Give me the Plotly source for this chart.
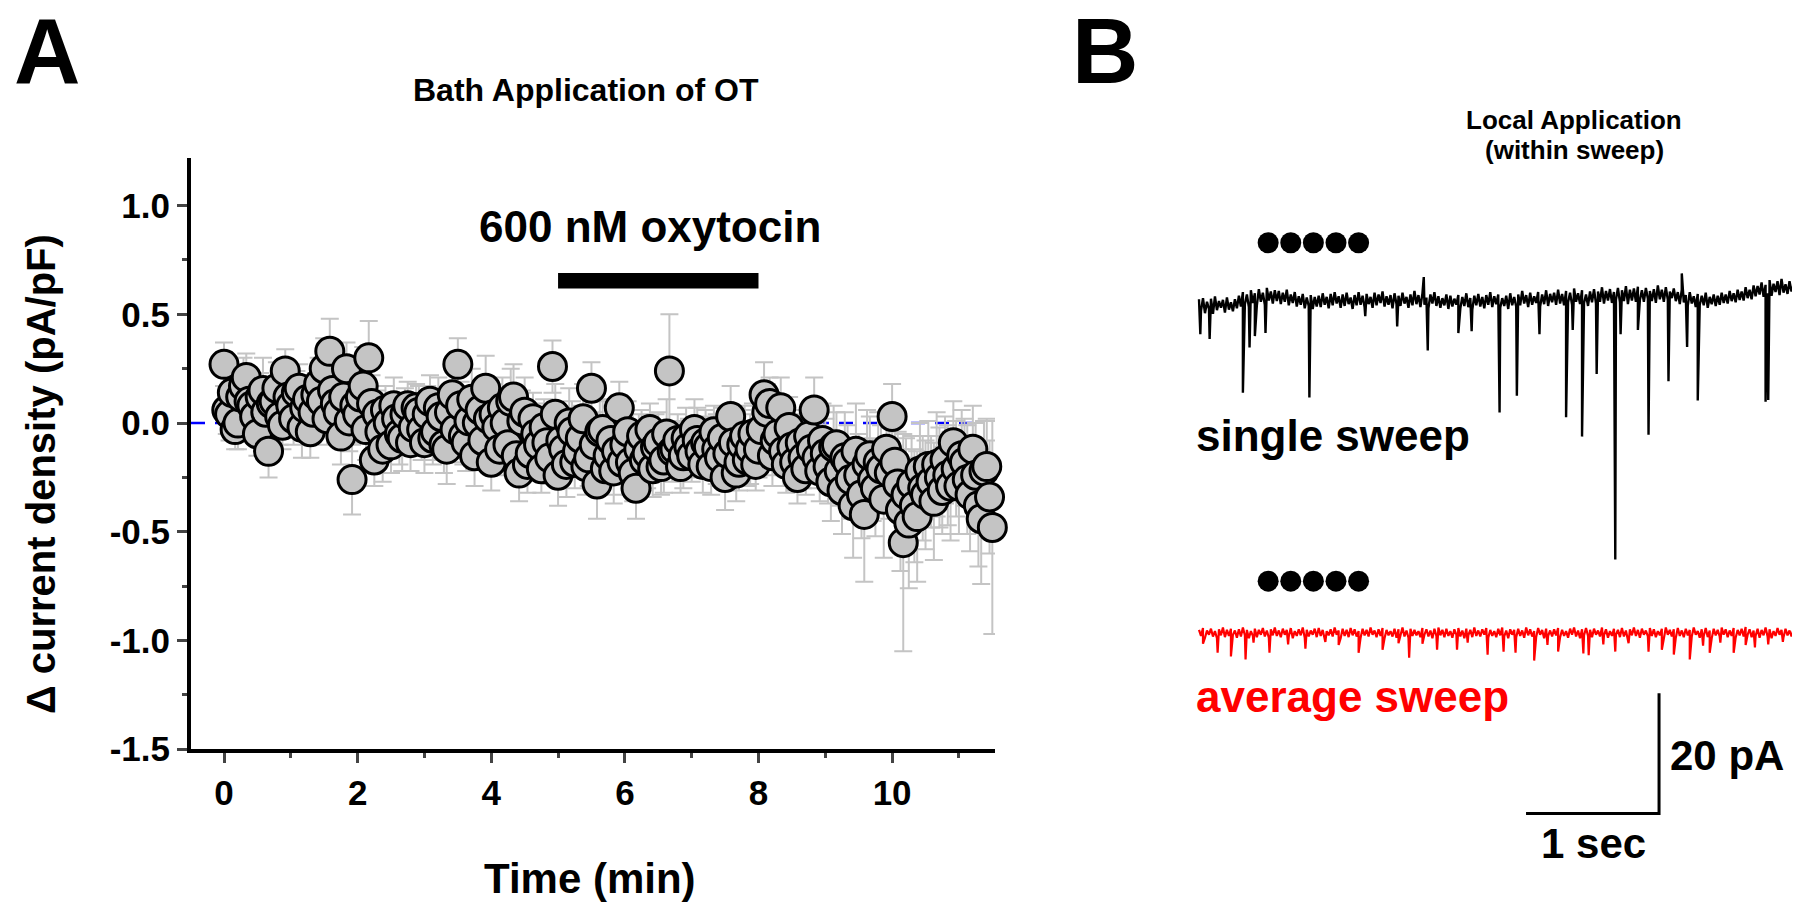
import plotly.graph_objects as go

# ---------------- Panel A data (bath application of OT) ----------------
SAMPLE_INTERVAL_S = 5  # points every 5 s, second set offset by 2.5 s
delta_density = [
    0.27, 0.04, -0.03, 0.12, 0.21, 0.08, -0.05, 0.15, -0.13, 0.10, 0.03, 0.24,
    0.08, 0.14, -0.02, 0.11, 0.05, 0.18, 0.25, 0.33, 0.09, -0.06, 0.25, -0.26,
    0.04, 0.17, 0.30, -0.17, -0.04, 0.06, -0.10, 0.02, -0.07, 0.08, -0.02, 0.05,
    -0.09, 0.10, -0.04, 0.03, -0.12, 0.13, 0.27, -0.06, 0.01, -0.15, 0.06, 0.16,
    -0.18, -0.02, 0.07, -0.10, 0.12, -0.23, 0.05, -0.14, -0.05, -0.21, -0.09, 0.26,
    -0.24, -0.12, 0.00, -0.18, -0.07, -0.20, 0.16, -0.28, -0.03, -0.15, -0.22, 0.07,
    -0.10, -0.18, -0.30, -0.06, -0.14, -0.21, -0.09, -0.17, 0.24, -0.12, -0.20, -0.07,
    -0.15, -0.08, -0.19, -0.11, -0.04, -0.16, -0.25, 0.03, -0.23, -0.10, -0.17, -0.05,
    -0.12, 0.13, 0.09, -0.08, 0.07, -0.19, -0.11, -0.25, -0.16, -0.06, 0.06, -0.22,
    -0.14, -0.27, -0.10, -0.31, -0.18, -0.38, -0.24, -0.42, -0.15, -0.30, -0.21, -0.12,
    0.03, -0.28, -0.55, -0.46, -0.38, -0.22, -0.33, -0.27, -0.19, -0.31, -0.24, -0.09,
    -0.29, -0.18, -0.33, -0.24, -0.44, -0.20, -0.48,
]
delta_sem = [
    0.10, 0.12, 0.09, 0.14, 0.11, 0.13, 0.10, 0.15, 0.12, 0.11, 0.13, 0.10,
    0.12, 0.10, 0.14, 0.11, 0.13, 0.12, 0.14, 0.15, 0.11, 0.13, 0.12, 0.16,
    0.13, 0.18, 0.17, 0.12, 0.14, 0.11, 0.13, 0.12, 0.15, 0.11, 0.13, 0.12,
    0.14, 0.12, 0.13, 0.11, 0.16, 0.15, 0.12, 0.13, 0.11, 0.14, 0.12, 0.15,
    0.13, 0.11, 0.14, 0.12, 0.15, 0.13, 0.16, 0.12, 0.14, 0.11, 0.13, 0.12,
    0.14, 0.13, 0.16, 0.12, 0.15, 0.13, 0.12, 0.16, 0.14, 0.13, 0.15, 0.12,
    0.13, 0.15, 0.14, 0.12, 0.16, 0.13, 0.14, 0.15, 0.26, 0.13, 0.12, 0.14,
    0.12, 0.15, 0.13, 0.14, 0.12, 0.13, 0.15, 0.14, 0.13, 0.16, 0.12, 0.14,
    0.13, 0.15, 0.12, 0.16, 0.14, 0.13, 0.15, 0.12, 0.14, 0.13, 0.15, 0.14,
    0.16, 0.18, 0.15, 0.20, 0.17, 0.24, 0.19, 0.31, 0.18, 0.22, 0.20, 0.17,
    0.15, 0.24, 0.50, 0.30, 0.26, 0.22, 0.25, 0.21, 0.24, 0.20, 0.23, 0.19,
    0.22, 0.20, 0.26, 0.24, 0.30, 0.22, 0.49,
]
delta_density_half = [
    0.06, 0.14, 0.00, 0.17, 0.10, 0.03, 0.12, 0.05, 0.09, 0.16, -0.01, 0.12,
    0.02, 0.16, 0.07, -0.04, 0.13, 0.10, 0.02, 0.15, 0.05, 0.12, 0.01, 0.08,
    0.12, -0.03, 0.09, 0.04, -0.12, 0.00, 0.08, -0.05, 0.04, -0.09, 0.07, -0.03,
    0.04, -0.07, 0.07, -0.10, 0.05, -0.03, 0.08, -0.09, 0.11, 0.00, -0.08, 0.02,
    0.04, -0.12, 0.00, 0.10, -0.15, 0.01, -0.19, 0.02, -0.10, -0.02, -0.16, 0.04,
    -0.08, -0.19, -0.04, -0.13, 0.02, -0.16, -0.10, -0.04, -0.21, -0.08, -0.13, -0.18,
    -0.04, -0.23, -0.12, -0.17, -0.03, -0.11, -0.20, -0.05, -0.13, -0.08, -0.15, -0.11,
    -0.03, -0.13, -0.09, -0.20, -0.12, -0.07, -0.14, -0.09, -0.18, -0.06, -0.12, -0.19,
    -0.03, 0.05, -0.15, -0.05, -0.13, -0.02, -0.18, -0.09, -0.21, -0.12, -0.16, -0.08,
    -0.20, -0.11, -0.22, -0.16, -0.26, -0.13, -0.33, -0.19, -0.26, -0.18, -0.35, -0.23,
    -0.18, -0.40, -0.33, -0.28, -0.43, -0.30, -0.20, -0.36, -0.25, -0.17, -0.29, -0.21,
    -0.15, -0.26, -0.12, -0.38, -0.22, -0.34,
]
delta_sem_half = [
    0.11, 0.10, 0.12, 0.13, 0.10, 0.12, 0.11, 0.14, 0.10, 0.12, 0.11, 0.13,
    0.12, 0.11, 0.13, 0.12, 0.10, 0.14, 0.12, 0.13, 0.11, 0.12, 0.14, 0.13,
    0.12, 0.14, 0.13, 0.11, 0.15, 0.12, 0.13, 0.14, 0.12, 0.13, 0.11, 0.14,
    0.13, 0.12, 0.14, 0.13, 0.12, 0.15, 0.11, 0.13, 0.14, 0.12, 0.13, 0.12,
    0.14, 0.12, 0.13, 0.15, 0.12, 0.14, 0.13, 0.12, 0.15, 0.13, 0.12, 0.14,
    0.13, 0.15, 0.14, 0.12, 0.16, 0.13, 0.15, 0.14, 0.12, 0.16, 0.13, 0.15,
    0.14, 0.13, 0.16, 0.14, 0.12, 0.15, 0.13, 0.16, 0.14, 0.12, 0.15, 0.13,
    0.14, 0.12, 0.15, 0.13, 0.16, 0.14, 0.12, 0.15, 0.13, 0.14, 0.16, 0.12,
    0.15, 0.13, 0.14, 0.12, 0.16, 0.14, 0.13, 0.15, 0.12, 0.16, 0.14, 0.17,
    0.17, 0.19, 0.16, 0.21, 0.18, 0.22, 0.20, 0.25, 0.19, 0.23, 0.27, 0.21,
    0.20, 0.28, 0.26, 0.22, 0.30, 0.24, 0.21, 0.27, 0.23, 0.20, 0.25, 0.22,
    0.21, 0.25, 0.20, 0.28, 0.23, 0.26,
]

OT_START_MIN, OT_END_MIN = 5, 8
BASELINE_LINE_END = 11.35
x_ticks = [0, 2, 4, 6, 8, 10]
y_ticks = [-1.5, -1.0, -0.5, 0.0, 0.5, 1.0]
y_tick_labels = ["-1.5", "-1.0", "-0.5", "0.0", "0.5", "1.0"]

# ---------------- Panel B data (local application, within sweep) ----------------
TRACE_DT = 0.03  # s between samples of each list (the "_mid" list sits halfway)
single_noise = [
    0.4, 0.6, 0.0, 0.5, 0.9, 0.1, 0.3, 0.7, -0.1, 0.4,
    1.0, 1.6, 1.2, 1.9, 1.4, 2.1, 1.5, 2.3, 1.7, 1.9,
    1.8, 1.5, 2.0, 1.2, 1.6, 0.9, 1.3, 0.7, 1.1, 0.8,
    1.0, 1.4, 0.8, 1.3, 1.6, 0.9, 1.2, 1.5, 0.7, 1.1,
    1.6, 1.0, 1.3, 0.8, 1.5, 1.2, 1.7, 0.9, 1.1, 1.4,
    1.0, 1.5, 0.8, 1.2, 1.8, 1.1, 1.4, 0.7, 1.2, 1.6,
    0.9, 0.6, 1.2, 1.0, 0.5, 1.1, 0.8, 1.4, 0.6, 1.0,
    1.3, 0.8, 1.1, 1.6, 0.9, 1.2, 0.6, 1.0, 1.4, 0.8,
    1.2, 1.8, 1.1, 1.5, 0.9, 1.6, 1.2, 1.9, 1.3, 1.5,
    2.0, 1.3, 1.8, 1.5, 2.2, 1.4, 1.9, 1.2, 1.7, 2.1,
    1.7, 2.4, 1.8, 2.1, 1.6, 2.3, 1.9, 2.6, 2.0, 2.2,
    2.5, 1.9, 2.3, 1.8, 2.1, 2.7, 2.0, 2.4, 1.7, 2.2,
    1.6, 2.0, 1.1, 1.6, 0.9, 1.3, 1.0, 1.5, 0.8, 1.2,
    1.0, 1.5, 1.2, 1.8, 1.4, 2.0, 1.7, 2.4, 2.0, 2.7,
    2.6, 3.2, 2.8, 3.6, 3.0, 3.4, 3.8, 2.9, 3.4, 2.7,
    2.5,
]
single_noise_mid = [
    -1.5, -1.9, -1.2, -2.0, -1.4, -1.0, -1.8, -1.3, -1.6, -1.1,
    -0.8, -0.4, -0.9, -0.2, -0.6, 0.0, -0.5, 0.2, -0.3, 0.1,
    -0.4, 0.0, -0.6, -0.2, -0.8, -0.5, -1.1, -0.7, -1.2, -0.8,
    -0.9, -0.5, -1.1, -0.6, -0.3, -1.0, -0.7, -0.4, -1.2, -0.6,
    -0.5, -0.9, -0.4, -1.0, -0.6, -0.2, -0.8, -0.5, -1.1, -0.4,
    -0.7, -0.3, -1.0, -0.6, -0.4, -0.9, -0.5, -1.1, -0.3, -0.7,
    -1.0, -0.6, -1.2, -0.8, -0.5, -1.1, -0.7, -0.9, -1.3, -0.6,
    -0.8, -1.1, -0.5, -0.9, -0.4, -1.0, -0.7, -1.2, -0.6, -0.8,
    -0.6, -0.3, -0.9, -0.5, -0.2, -0.8, -0.4, -0.7, -0.1, -0.5,
    -0.3, -0.6, -0.1, -0.5, 0.0, -0.4, -0.2, -0.7, -0.1, -0.3,
    0.0, -0.3, 0.2, -0.2, 0.3, -0.1, 0.1, -0.4, 0.2, 0.0,
    0.3, 0.0, 0.5, 0.1, -0.2, 0.4, 0.0, 0.3, 0.6, 0.1,
    -0.4, -0.1, -0.7, -0.3, -0.9, -0.5, -0.6, -1.0, -0.4, -0.7,
    -0.5, -0.2, -0.3, 0.1, -0.1, 0.3, 0.2, 0.6, 0.4, 0.9,
    1.2, 0.8, 1.4, 1.0, 1.6, 1.1, 1.5, 1.3, 1.7, 1.2,
]
single_event_t = [0.01, 0.08, 0.33, 0.38, 0.42, 0.50, 0.83, 1.25, 1.49, 1.69,
                  1.72, 1.95, 2.05, 2.26, 2.39, 2.56, 2.76, 2.81, 2.88, 2.99,
                  3.13, 3.17, 3.30, 3.38, 3.53, 3.63, 3.67, 3.75, 4.26, 4.28]
single_event_pA = [-5.4, -6.2, -15.1, -7.6, -5.7, -5.2, -15.9, -2.4, -4.1, 4.1,
                   -8.1, -5.2, -4.9, -18.4, -15.6, -5.4, -19.2, -4.7, -22.4, -12.0,
                   -42.8, -5.4, -4.7, -22.1, -13.2, 4.7, -7.5, -16.4, -16.6, -16.3]

avg_noise = [
    0.5, 0.8, 0.4, 0.7, 0.3, 0.6, 0.9, 0.5, 0.7, 0.4,
    0.6, 0.9, 0.5, 0.3, 0.7, 0.5, 0.8, 0.4, 0.6, 0.9,
    0.4, 0.7, 0.5, 0.8, 0.3, 0.6, 0.9, 0.5, 0.4, 0.7,
    0.8, 0.5, 0.3, 0.6, 0.9, 0.4, 0.7, 0.5, 0.8, 0.6,
    0.3, 0.7, 0.5, 0.9, 0.4, 0.6, 0.8, 0.5, 0.3, 0.7,
    0.6, 0.9, 0.4, 0.7, 0.5, 0.3, 0.8, 0.6, 0.4, 0.7,
    0.9, 0.5, 0.7, 0.3, 0.6, 0.8, 0.4, 0.7, 0.5, 0.9,
    0.4, 0.6, 0.8, 0.5, 0.3, 0.7, 0.9, 0.4, 0.6, 0.5,
    0.7, 0.4, 0.9, 0.6, 0.3, 0.8, 0.5, 0.7, 0.4, 0.6,
    0.8, 0.5, 0.3, 0.7, 0.9, 0.4, 0.6, 0.8, 0.5, 0.7,
    0.4, 0.9, 0.6, 0.3, 0.7, 0.5, 0.8, 0.4, 0.6, 0.9,
    0.5, 0.7, 0.4, 0.8, 0.6, 0.3, 0.7, 0.9, 0.5, 0.6,
    0.8, 0.4, 0.7, 0.5, 0.9, 0.3, 0.6, 0.8, 0.4, 0.7,
    0.5, 0.9, 0.6, 0.4, 0.8, 0.5, 0.7, 1.0, 0.6, 0.4,
    0.7, 0.5, 0.9, 0.6, 0.3, 0.8, 0.5, 0.7, 0.4, 0.6,
    0.5,
]
avg_noise_mid = [
    -0.5, -0.8, -0.3, -0.6, -0.9, -0.4, -0.7, -0.5, -0.3, -0.8,
    -0.6, -0.4, -0.9, -0.5, -0.7, -0.3, -0.6, -0.8, -0.4, -0.5,
    -0.7, -0.3, -0.6, -0.9, -0.5, -0.4, -0.8, -0.6, -0.3, -0.7,
    -0.5, -0.8, -0.4, -0.6, -0.3, -0.9, -0.5, -0.7, -0.4, -0.6,
    -0.8, -0.4, -0.6, -0.3, -0.7, -0.5, -0.9, -0.4, -0.6, -0.8,
    -0.3, -0.6, -0.8, -0.5, -0.4, -0.7, -0.3, -0.6, -0.9, -0.5,
    -0.4, -0.7, -0.5, -0.8, -0.3, -0.6, -0.9, -0.4, -0.7, -0.5,
    -0.6, -0.3, -0.8, -0.5, -0.7, -0.4, -0.6, -0.9, -0.3, -0.7,
    -0.5, -0.8, -0.4, -0.6, -0.7, -0.3, -0.9, -0.5, -0.6, -0.4,
    -0.7, -0.5, -0.8, -0.3, -0.6, -0.9, -0.4, -0.5, -0.7, -0.3,
    -0.6, -0.4, -0.8, -0.5, -0.3, -0.7, -0.6, -0.9, -0.4, -0.5,
    -0.8, -0.3, -0.6, -0.5, -0.7, -0.4, -0.9, -0.3, -0.6, -0.8,
    -0.5, -0.7, -0.4, -0.6, -0.3, -0.8, -0.5, -0.7, -0.9, -0.4,
    -0.6, -0.3, -0.7, -0.5, -0.8, -0.4, -0.6, -0.3, -0.7, -0.5,
    -0.8, -0.4, -0.6, -0.9, -0.5, -0.3, -0.7, -0.4, -0.6, -0.5,
]
avg_event_t = [0.03, 0.14, 0.24, 0.35, 0.41, 0.53, 0.67, 0.80, 0.95, 1.05,
               1.20, 1.38, 1.50, 1.58, 1.68, 1.79, 1.94, 2.02, 2.17, 2.29,
               2.38, 2.52, 2.62, 2.70, 2.89, 2.93, 3.04, 3.13, 3.23, 3.38,
               3.48, 3.57, 3.69, 3.79, 3.84, 3.92, 4.02, 4.11, 4.18, 4.28,
               4.39, 4.47]
avg_event_pA = [-1.8, -3.3, -3.9, -4.4, -1.6, -3.3, -1.9, -2.6, -1.5, -2.0,
                -3.3, -2.8, -1.7, -4.1, -1.8, -2.8, -2.8, -1.6, -3.6, -3.1,
                -3.3, -4.6, -2.0, -3.1, -3.4, -3.7, -1.9, -3.1, -1.7, -3.1,
                -2.8, -3.6, -4.4, -2.1, -3.3, -1.6, -3.3, -2.0, -2.4, -1.9,
                -1.5, -3.6]
puff_times_s = [0.52, 0.69, 0.86, 1.03, 1.20]
SCALE_TIME_S = 1.0
SCALE_CURRENT_PA = 20.0

# ---------------- layout constants (positions / styles) ----------------
W, H = 1800, 910
FONT = "Liberation Sans, Arial, Helvetica, sans-serif"
AVG_OFFSET_PA = -55.0       # vertical offset of the average sweep
PUFF_Y_SINGLE = 9.8
PUFF_Y_AVG = AVG_OFFSET_PA + 8.6
SCALEBAR_T, SCALEBAR_Y = 3.459, -85.0


def build_trace(noise, noise_mid, ev_t, ev_a, offset=0.0):
    pts = [(i * TRACE_DT, v) for i, v in enumerate(noise)]
    pts += [((i + 0.5) * TRACE_DT, v) for i, v in enumerate(noise_mid)]
    pts += list(zip(ev_t, ev_a))
    pts.sort(key=lambda p: p[0])
    return [p[0] for p in pts], [p[1] + offset for p in pts]


def px(x):
    return x / W


def py(y):
    return 1 - y / H


fig = go.Figure()

# baseline dashed line
fig.add_trace(go.Scatter(
    x=[-0.494, BASELINE_LINE_END], y=[0, 0], mode="lines",
    line=dict(color="#0000ff", width=2.5, dash="14px,10px"),
    xaxis="x", yaxis="y", hoverinfo="skip", showlegend=False))

# data points with SEM (two interleaved sample sets merged in time order)
t_a = [i * SAMPLE_INTERVAL_S / 60 for i in range(len(delta_density))]
t_b = [(i + 0.5) * SAMPLE_INTERVAL_S / 60 for i in range(len(delta_density_half))]
merged = sorted(zip(t_a + t_b, delta_density + delta_density_half, delta_sem + delta_sem_half))
time_min = [m[0] for m in merged]
dens = [m[1] for m in merged]
sem = [m[2] for m in merged]

fig.add_trace(go.Scatter(
    x=time_min, y=dens, mode="markers",
    marker=dict(size=28, color="#c4c4c4", line=dict(color="black", width=3)),
    error_y=dict(type="data", array=sem, color="#c4c4c4", thickness=2, width=9),
    cliponaxis=False, xaxis="x", yaxis="y", showlegend=False))

# traces
sx, sy = build_trace(single_noise, single_noise_mid, single_event_t, single_event_pA)
fig.add_trace(go.Scatter(x=sx, y=sy, mode="lines", line=dict(color="black", width=2.4),
                         xaxis="x2", yaxis="y2", showlegend=False))
ax_, ay_ = build_trace(avg_noise, avg_noise_mid, avg_event_t, avg_event_pA, AVG_OFFSET_PA)
fig.add_trace(go.Scatter(x=ax_, y=ay_, mode="lines", line=dict(color="#ff0000", width=2.2),
                         xaxis="x2", yaxis="y2", showlegend=False))

# puff dots
for yv in (PUFF_Y_SINGLE, PUFF_Y_AVG):
    fig.add_trace(go.Scatter(
        x=puff_times_s, y=[yv] * len(puff_times_s), mode="markers",
        marker=dict(size=21, color="black"), xaxis="x2", yaxis="y2", showlegend=False))

# scale bars
fig.add_trace(go.Scatter(
    x=[SCALEBAR_T - SCALE_TIME_S, SCALEBAR_T, SCALEBAR_T],
    y=[SCALEBAR_Y, SCALEBAR_Y, SCALEBAR_Y + SCALE_CURRENT_PA],
    mode="lines", line=dict(color="black", width=3), xaxis="x2", yaxis="y2", showlegend=False))

# OT application bar
fig.add_shape(type="rect", xref="x", yref="y", x0=OT_START_MIN, x1=OT_END_MIN,
              y0=0.619, y1=0.690, fillcolor="black", line=dict(width=0))

tickfont = dict(family=FONT, size=35, color="black", weight="bold")
fig.update_layout(
    width=W, height=H, margin=dict(l=0, r=0, t=0, b=0),
    paper_bgcolor="white", plot_bgcolor="white", showlegend=False,
    xaxis=dict(domain=[px(183), px(987)], range=[-0.494, 11.54],
               tickvals=x_ticks, ticks="outside", ticklen=10, tickwidth=3,
               showline=True, linewidth=4, linecolor="black", showgrid=False,
               zeroline=False, tickfont=tickfont,
               minor=dict(dtick=1, tick0=0, ticks="outside", ticklen=5, tickwidth=3, showgrid=False)),
    yaxis=dict(domain=[py(757), py(153)], range=[-1.5, 1.22],
               tickvals=y_ticks, ticktext=y_tick_labels, ticks="outside", ticklen=10, tickwidth=3,
               showline=True, linewidth=4, linecolor="black", showgrid=False,
               zeroline=False, tickfont=tickfont,
               minor=dict(dtick=0.25, tick0=0, ticks="outside", ticklen=5, tickwidth=3, showgrid=False)),
    xaxis2=dict(domain=[px(1180), 1.0], range=[-0.0827, 4.579], visible=False, anchor="y2"),
    yaxis2=dict(domain=[0, 1], range=[-99.19, 48.78], visible=False, anchor="x2"),
)


def label(text, x, y, size, color="black", xanchor="center", angle=0):
    fig.add_annotation(text=f"<b>{text}</b>", x=px(x), y=py(y), xref="paper", yref="paper",
                       xanchor=xanchor, yanchor="middle", showarrow=False, textangle=angle,
                       font=dict(family=FONT, size=size, color=color))


label("A", 4, 44, 92, xanchor="left")
label("B", 1062, 44, 92, xanchor="left")
label("Bath Application of OT", 578, 84, 32)
label("Local Application", 1566, 114, 26)
label("(within sweep)", 1566, 145, 26)
label("600 nM oxytocin", 642, 223, 44)
label("\u0394 current density (pA/pF)", 33, 476, 40, angle=-90)
label("Time (min)", 582, 889, 42)
label("single sweep", 1186, 437, 44, xanchor="left")
label("average sweep", 1186, 703, 44, color="#ff0000", xanchor="left")
label("20 pA", 1660, 763, 42, xanchor="left")
label("1 sec", 1585, 853, 42)

fig.write_html("out.html")
